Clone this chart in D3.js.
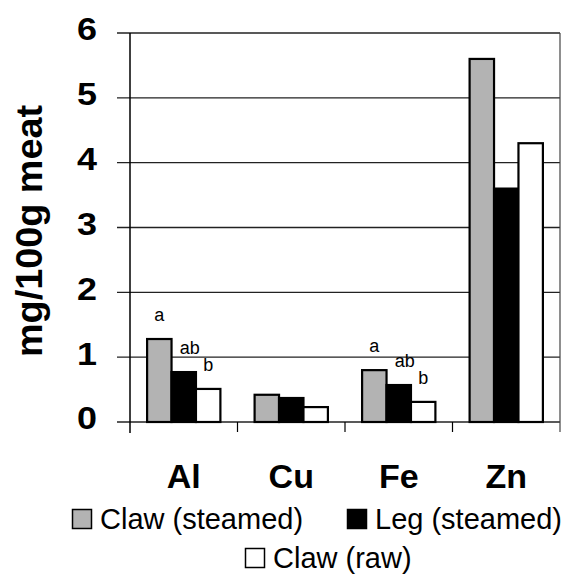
<!DOCTYPE html>
<html>
<head>
<meta charset="utf-8">
<script src="https://cdn.jsdelivr.net/npm/d3@7"></script>
<style>
  body { margin: 0; background: #fff; }
  text { font-family: "Liberation Sans", Arial, sans-serif; }
</style>
</head>
<body>
<svg id="chart"></svg>
<script>
// Data
var elements = ["Al", "Cu", "Fe", "Zn"];
var series = ["Claw (steamed)", "Leg (steamed)", "Claw (raw)"];
var clawSteamed = [1.28, 0.42, 0.80, 5.60];
var legSteamed = [0.77, 0.37, 0.57, 3.60];
var clawRaw = [0.51, 0.23, 0.31, 4.30];
var yTicks = [0, 1, 2, 3, 4, 5, 6];
// significance letters (empty = none)
var letters = [
  ["a", "ab", "b"],
  ["", "", ""],
  ["a", "ab", "b"],
  ["", "", ""]
];

var colors = ["#b3b3b3", "#000000", "#ffffff"];

var svgWidth = 565;
var svgHeight = 574;
var margin = { top: 33, right: 5, bottom: 152, left: 130 };

var svg = d3.select("#chart")
  .attr("width", svgWidth)
  .attr("height", svgHeight);

var values = [clawSteamed, legSteamed, clawRaw];
var table = elements.map(function (el, i) {
  return series.map(function (s, j) {
    return { element: el, series: s, value: values[j][i], letter: letters[i][j], idx: j };
  });
});

// Scales
var x0 = d3.scaleBand()
  .domain(elements)
  .range([margin.left, svgWidth - margin.right])
  .padding(0);

var x1 = d3.scaleBand()
  .domain(series)
  .range([0, x0.bandwidth()])
  .paddingInner(0)
  .paddingOuter(0.7);

var y = d3.scaleLinear()
  .domain([0, 6])
  .range([svgHeight - margin.bottom, margin.top]);

var right = svgWidth - margin.right;
var bottom = y(0);

// Gridlines
svg.append("g")
  .selectAll("line")
  .data(yTicks)
  .enter()
  .append("line")
  .attr("x1", margin.left - 13)
  .attr("x2", right)
  .attr("y1", function (d) { return y(d); })
  .attr("y2", function (d) { return y(d); })
  .attr("stroke", "#222")
  .attr("stroke-width", 1.3);

// Right border
svg.append("line")
  .attr("x1", right).attr("x2", right)
  .attr("y1", y(6)).attr("y2", bottom + 10)
  .attr("stroke", "#444")
  .attr("stroke-width", 1.2);

// Left axis line
svg.append("line")
  .attr("x1", margin.left).attr("x2", margin.left)
  .attr("y1", y(6)).attr("y2", bottom + 11)
  .attr("stroke", "#000")
  .attr("stroke-width", 1.5);

// Category boundary ticks
svg.append("g")
  .selectAll("line")
  .data(elements.slice(1))
  .enter()
  .append("line")
  .attr("x1", function (d) { return x0(d); })
  .attr("x2", function (d) { return x0(d); })
  .attr("y1", bottom)
  .attr("y2", bottom + 10)
  .attr("stroke", "#000")
  .attr("stroke-width", 1.2);

// Y tick labels
svg.append("g")
  .selectAll("text")
  .data(yTicks)
  .enter()
  .append("text")
  .attr("x", 97)
  .attr("y", function (d) { return y(d); })
  .attr("dy", "0.24em")
  .attr("text-anchor", "end")
  .attr("font-size", "31px")
  .attr("font-weight", "bold")
  .attr("textLength", 20)
  .attr("lengthAdjust", "spacingAndGlyphs")
  .text(function (d) { return d; });

// Y axis title
svg.append("text")
  .attr("transform", "translate(42,231) rotate(-90)")
  .attr("text-anchor", "middle")
  .attr("font-size", "36px")
  .attr("font-weight", "bold")
  .attr("textLength", 252)
  .attr("lengthAdjust", "spacingAndGlyphs")
  .text("mg/100g meat");

// Bars
var groups = svg.append("g")
  .selectAll("g")
  .data(table)
  .enter()
  .append("g")
  .attr("transform", function (d) { return "translate(" + x0(d[0].element) + ",0)"; });

groups.selectAll("rect")
  .data(function (d) { return d; })
  .enter()
  .append("rect")
  .attr("x", function (d) { return x1(d.series); })
  .attr("y", function (d) { return y(d.value); })
  .attr("width", x1.bandwidth())
  .attr("height", function (d) { return bottom - y(d.value); })
  .attr("fill", function (d) { return colors[d.idx]; })
  .attr("stroke", "#000")
  .attr("stroke-width", 2.2);

// Significance letters
groups.selectAll("text")
  .data(function (d) { return d.filter(function (e) { return e.letter; }); })
  .enter()
  .append("text")
  .attr("x", function (d) { return x1(d.series) + x1.bandwidth() / 2 + (d.idx === 1 ? 6 : 0); })
  .attr("y", function (d) { return y(d.value) - 18; })
  .attr("text-anchor", "middle")
  .attr("font-size", "18px")
  .text(function (d) { return d.letter; });

// Category labels
svg.append("g")
  .selectAll("text")
  .data(elements)
  .enter()
  .append("text")
  .attr("x", function (d) { return x0(d) + x0.bandwidth() / 2; })
  .attr("y", 488)
  .attr("text-anchor", "middle")
  .attr("font-size", "34px")
  .attr("font-weight", "bold")
  .text(function (d) { return d; });

// Legend
var legendPos = [[72, 509], [347, 509], [245, 548]];
var legend = svg.append("g")
  .selectAll("g")
  .data(series)
  .enter()
  .append("g")
  .attr("transform", function (d, i) { return "translate(" + legendPos[i][0] + "," + legendPos[i][1] + ")"; });

legend.append("rect")
  .attr("x", 0.5).attr("y", 0.5)
  .attr("width", 19).attr("height", 19)
  .attr("fill", function (d, i) { return colors[i]; })
  .attr("stroke", "#000")
  .attr("stroke-width", 1.5);

legend.append("text")
  .attr("x", 28)
  .attr("y", 20)
  .attr("font-size", "29px")
  .text(function (d) { return d; });
</script>
</body>
</html>
